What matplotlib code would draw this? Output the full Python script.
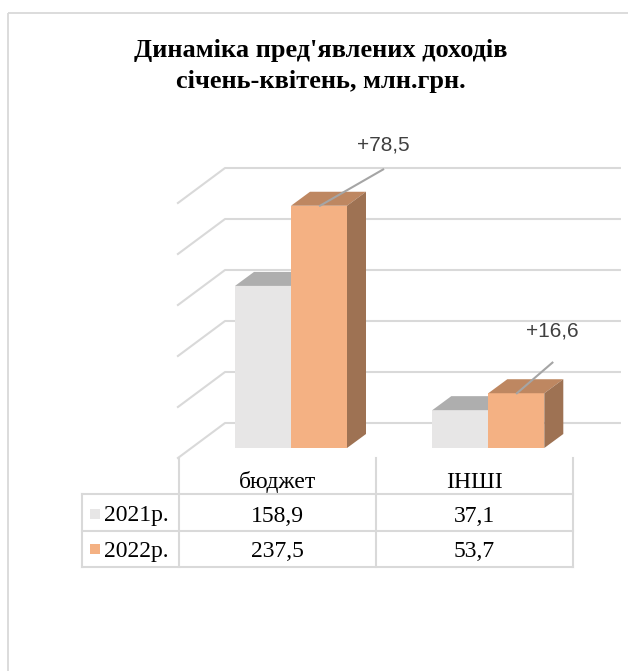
import matplotlib
matplotlib.use("Agg")
import matplotlib.pyplot as plt
from matplotlib.patches import Polygon, Rectangle

# data
categories = ["бюджет", "ІНШІ"]
series = ["2021р.", "2022р."]
values_2021 = [158.9, 37.1]
values_2022 = [237.5, 53.7]
table_2021 = ["158,9", "37,1"]
table_2022 = ["237,5", "53,7"]
delta_labels = ["+78,5", "+16,6"]
title = "Динаміка пред'явлених доходів\nсічень-квітень, млн.грн."

front_colors = ["#E7E6E6", "#F4B183"]
top_colors = ["#AEAEAE", "#BE8761"]
side_colors = ["#979797", "#9E7253"]
grid_col = "#D9D9D9"

W, H = 628, 671
fig = plt.figure(figsize=(W / 100, H / 100), dpi=100)

# overlay in pixel coords for frame, title, table
ov = fig.add_axes([0, 0, 1, 1], zorder=0)
ov.set_xlim(0, W)
ov.set_ylim(H, 0)
ov.axis("off")
ov.add_patch(Rectangle((8, 13), 700, 700, fill=False, ec=grid_col, lw=1.3))
for line, yb in zip(title.split("\n"), [57, 88]):
    ov.text(321, yb, line, ha="center", va="baseline", fontsize=19, fontweight="bold",
            family="Liberation Serif")

# main chart axes: x in category units, y in value units (front plane of bars)
px_x = 197.3          # pixels per category step
px_y = 1.02           # pixels per value unit
x0_px, y0_px = 291, 448
left_px, right_px, top_px, bot_px = 170, 625, 120, 458
ax = fig.add_axes([left_px / W, (H - bot_px) / H, (right_px - left_px) / W, (bot_px - top_px) / H],
                  zorder=1)
ax.patch.set_alpha(0)
ax.set_xlim((left_px - x0_px) / px_x, (right_px - x0_px) / px_x)
ax.set_ylim(-(bot_px - y0_px) / px_y, (y0_px - top_px) / px_y)
ax.axis("off")

# gridlines (back wall + floor diagonals)
gx_front, gx_back, gx_end = -0.573, -0.3345, 1.667
g_front, g_back = -9.8, 24.5
for v in range(0, 300, 50):
    ax.plot([gx_front, gx_back, gx_end], [v + g_front, v + g_back, v + g_back],
            color=grid_col, lw=1.5, clip_on=False, zorder=1)

bw = 56 / px_x
dx, dy = 19 / px_x, 14 / px_y
xs = list(range(len(categories)))
for si, vals in enumerate([values_2021, values_2022]):
    lefts = [x - bw if si == 0 else x for x in xs]
    z = 3 + si * 2
    ax.bar(lefts, vals, width=bw, align="edge", color=front_colors[si], zorder=z)
    for l, h in zip(lefts, vals):
        ax.add_patch(Polygon([(l, h), (l + bw, h), (l + bw + dx, h + dy), (l + dx, h + dy)],
                             closed=True, fc=top_colors[si], ec="none", zorder=z))
        ax.add_patch(Polygon([(l + bw, 0), (l + bw, h), (l + bw + dx, h + dy), (l + bw + dx, dy)],
                             closed=True, fc=side_colors[si], ec="none", zorder=z))

# delta leader lines and labels
starts = [0.147, 0.145]
line_d = [(0.32, 35.6), (0.18, 30)]
text_gap = [23.5, 31]
for x, h, lab, sx, (ldx, ldy), tg in zip(xs, values_2022, delta_labels, starts, line_d, text_gap):
    ax.plot([x + sx, x + sx + ldx], [h, h + ldy], color="#A5A5A5", lw=1.5, zorder=10)
    ax.text(x + sx + ldx, h + ldy + tg, lab, ha="center", va="center", fontsize=15,
            color="#404040", family="Liberation Sans", zorder=10)

# data table
col_x = [82, 179, 376, 573]
row_y = [458, 494, 531, 567]
tl = dict(color=grid_col, lw=1.5)
for yy in row_y[1:]:
    ov.plot([col_x[0], col_x[-1]], [yy, yy], **tl)
ov.plot([col_x[0], col_x[0]], [row_y[1], row_y[-1]], **tl)
for xx in col_x[1:]:
    ov.plot([xx, xx], [row_y[0], row_y[-1]], **tl)

tf = dict(family="Liberation Serif", fontsize=17, color="black", va="baseline")
for ci, cat in enumerate(categories):
    cx = (col_x[ci + 1] + col_x[ci + 2]) / 2
    ov.text(cx, 488, cat, ha="center", **tf)
for ri, (name, cells) in enumerate(zip(series, [table_2021, table_2022])):
    yb = [521.5, 557][ri]
    ov.add_patch(Rectangle((90, yb - 13), 10, 10, fc=front_colors[ri], ec="none"))
    ov.text(104, yb, name, ha="left", **tf)
    for ci, cell in enumerate(cells):
        cx = (col_x[ci + 1] + col_x[ci + 2]) / 2
        ov.text(cx, yb, cell, ha="center", **tf)

fig.savefig("out.png", dpi=100)
